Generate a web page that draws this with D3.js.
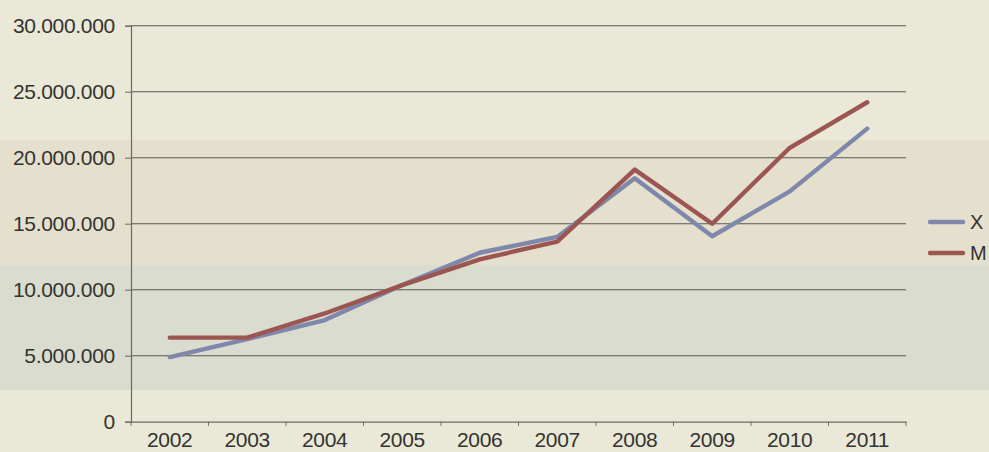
<!DOCTYPE html>
<html>
<head>
<meta charset="utf-8">
<script src="https://cdn.jsdelivr.net/npm/d3@7"></script>
<style>
  html, body { margin: 0; padding: 0; background: #e9e7d6; }
  svg { display: block; font-family: "Liberation Sans", Arial, sans-serif; }
</style>
</head>
<body>
<svg id="chart" width="989" height="452"></svg>
<script>
const years = ["2002","2003","2004","2005","2006","2007","2008","2009","2010","2011"];
const seriesX = [4900000, 6250000, 7700000, 10350000, 12800000, 14000000, 18450000, 14050000, 17450000, 22200000];
const seriesM = [6370000, 6370000, 8200000, 10350000, 12300000, 13650000, 19100000, 15000000, 20750000, 24200000];
const yTicks = [0, 5000000, 10000000, 15000000, 20000000, 25000000, 30000000];
const seriesNames = ["X", "M"];
const seriesColors = ["#7f87ab", "#9c5651"];

const svg = d3.select("#chart");
const W = 989, H = 452;
const m = { left: 131, right: 83, top: 25.7, bottom: 30.3 };
const FONT = '"Liberation Sans", Arial, sans-serif';

// paper background bands (scan look)
const bg = svg.append("g");
bg.append("rect").attr("x",0).attr("y",0).attr("width",W).attr("height",H).attr("fill","#eae8d7");
bg.append("rect").attr("x",0).attr("y",140).attr("width",W).attr("height",125).attr("fill","#e5dfcd");
bg.append("rect").attr("x",0).attr("y",265).attr("width",W).attr("height",125).attr("fill","#dadccf");

const loc = d3.formatLocale({ decimal: ",", thousands: ".", grouping: [3], currency: ["", ""] });
const fmt = loc.format(",d");

const x = d3.scaleBand().domain(years).range([m.left, W - m.right]).padding(0);
const y = d3.scaleLinear().domain([0, 30000000]).range([H - m.bottom, m.top]);

// gridlines
svg.append("g")
  .selectAll("line").data(yTicks.filter(d => d > 0)).join("line")
  .attr("x1", m.left).attr("x2", W - m.right)
  .attr("y1", d => y(d)).attr("y2", d => y(d))
  .attr("stroke", "#5a5a52").attr("stroke-width", 1.1);

// y axis
const yAxis = svg.append("g").attr("transform", `translate(${m.left},0)`)
  .call(d3.axisLeft(y).tickValues(yTicks).tickFormat(fmt).tickSize(6).tickPadding(10));
yAxis.select(".domain").attr("stroke", "#6a6a60").attr("stroke-width", 1.2);
yAxis.selectAll(".tick line").attr("stroke", "#6a6a60");
yAxis.selectAll("text").attr("font-size", 21).attr("letter-spacing", -0.3).attr("fill", "#333330")
  .attr("font-family", FONT);

// x axis
const xAxis = svg.append("g").attr("transform", `translate(0,${H - m.bottom})`)
  .call(d3.axisBottom(x).tickSize(0).tickPadding(10));
xAxis.select(".domain").attr("stroke", "#6a6a60").attr("stroke-width", 1.2);
xAxis.selectAll("text").attr("font-size", 21).attr("letter-spacing", -0.3).attr("fill", "#333330")
  .attr("font-family", FONT);
// band boundary ticks
const bounds = years.map(d => x(d)).concat([x(years[years.length-1]) + x.bandwidth()]);
svg.append("g").selectAll("line").data(bounds).join("line")
  .attr("x1", d => d).attr("x2", d => d)
  .attr("y1", H - m.bottom).attr("y2", H - m.bottom + 4)
  .attr("stroke", "#6a6a60").attr("stroke-width", 1);

// lines
const line = d3.line().x((d, i) => x(years[i]) + x.bandwidth() / 2).y(d => y(d));
[seriesX, seriesM].forEach((s, k) => {
  svg.append("path").datum(s)
    .attr("fill", "none").attr("stroke", seriesColors[k])
    .attr("stroke-width", 4.4).attr("stroke-linejoin", "round").attr("stroke-linecap", "round")
    .attr("d", line);
});

// legend
const leg = svg.append("g");
seriesNames.forEach((n, k) => {
  const ly = 222 + k * 31;
  leg.append("line").attr("x1", 930).attr("x2", 963).attr("y1", ly).attr("y2", ly)
    .attr("stroke", seriesColors[k]).attr("stroke-width", 4.4).attr("stroke-linecap", "round");
  leg.append("text").attr("x", 970).attr("y", ly).attr("dy", "0.36em")
    .attr("font-size", 20).attr("letter-spacing", -0.3).attr("fill", "#333330").text(n);
});
</script>
</body>
</html>
